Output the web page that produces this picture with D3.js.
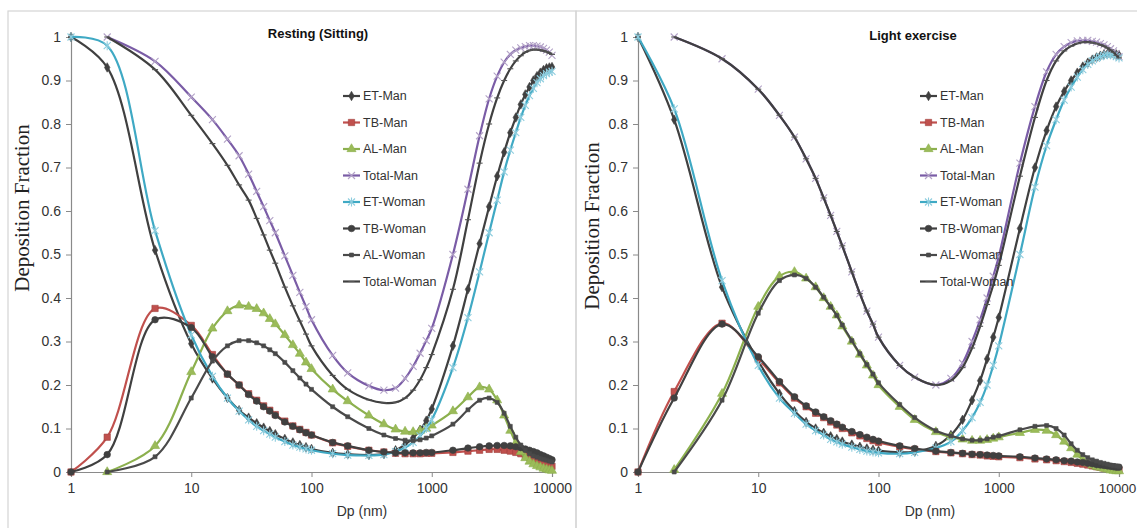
<!DOCTYPE html>
<html><head><meta charset="utf-8">
<script src="https://cdn.jsdelivr.net/npm/d3@7"></script>
<style>body{margin:0;background:#fff}svg{display:block}</style>
</head><body>
<svg id="chart" width="1137" height="528"></svg>
<script>
// particle diameter grid (nm)
const dp = [1,2,5,10,15,20,25,30,35,40,45,50,60,70,80,90,100,150,200,300,400,500,600,700,800,900,1000,1500,2000,2500,3000,3500,4000,4500,5000,5500,6000,6500,7000,7500,8000,8500,9000,9500,10000];
const seriesNames = ["ET-Man","TB-Man","AL-Man","Total-Man","ET-Woman","TB-Woman","AL-Woman","Total-Woman"];
const yTicks = [0,0.1,0.2,0.3,0.4,0.5,0.6,0.7,0.8,0.9,1];
const xTicks = [1,10,100,1000,10000];

// Resting (Sitting)
const restETMan = [1.0,0.93,0.51,0.295,0.215,0.17,0.142,0.125,0.112,0.102,0.094,0.087,0.076,0.068,0.062,0.057,0.053,0.044,0.041,0.039,0.041,0.05,0.063,0.078,0.097,0.118,0.145,0.29,0.42,0.525,0.61,0.68,0.735,0.78,0.815,0.845,0.868,0.885,0.9,0.91,0.918,0.924,0.928,0.93,0.931];
const restTBMan = [0,0.08,0.376,0.337,0.27,0.225,0.2,0.18,0.165,0.152,0.142,0.132,0.117,0.106,0.098,0.091,0.085,0.067,0.059,0.05,0.046,0.043,0.042,0.042,0.042,0.043,0.043,0.045,0.048,0.05,0.052,0.052,0.05,0.048,0.045,0.042,0.038,0.034,0.03,0.027,0.023,0.02,0.017,0.015,0.013];
const restALMan = [null,0,0.06,0.23,0.33,0.37,0.383,0.38,0.375,0.365,0.352,0.34,0.315,0.292,0.272,0.252,0.237,0.19,0.163,0.13,0.11,0.098,0.093,0.092,0.095,0.1,0.107,0.14,0.172,0.195,0.19,0.165,0.13,0.095,0.067,0.046,0.032,0.024,0.018,0.014,0.011,0.008,0.006,0.004,0.003];
const restTotalMan = [null,1.0,0.944,0.862,0.81,0.765,0.727,0.685,0.645,0.61,0.578,0.55,0.497,0.452,0.413,0.38,0.35,0.268,0.228,0.198,0.188,0.193,0.215,0.243,0.273,0.302,0.33,0.5,0.65,0.773,0.858,0.91,0.942,0.96,0.97,0.975,0.978,0.98,0.98,0.979,0.977,0.974,0.97,0.965,0.958];
const restETWoman = [1.0,0.98,0.555,0.315,0.22,0.17,0.14,0.12,0.105,0.095,0.087,0.08,0.07,0.062,0.057,0.053,0.05,0.042,0.039,0.038,0.04,0.047,0.056,0.068,0.083,0.1,0.12,0.24,0.355,0.46,0.55,0.625,0.69,0.74,0.78,0.815,0.843,0.865,0.882,0.895,0.904,0.911,0.916,0.919,0.921];
const restTBWoman = [0,0.04,0.35,0.332,0.265,0.225,0.2,0.178,0.163,0.15,0.14,0.13,0.115,0.105,0.097,0.09,0.085,0.068,0.06,0.05,0.046,0.044,0.044,0.044,0.044,0.045,0.045,0.05,0.055,0.058,0.06,0.061,0.061,0.06,0.058,0.056,0.053,0.05,0.047,0.044,0.04,0.037,0.034,0.031,0.028];
const restALWoman = [null,0,0.035,0.17,0.255,0.29,0.302,0.302,0.297,0.29,0.281,0.272,0.252,0.233,0.216,0.202,0.19,0.15,0.127,0.1,0.085,0.077,0.073,0.072,0.074,0.078,0.083,0.11,0.143,0.165,0.17,0.16,0.135,0.105,0.08,0.062,0.05,0.042,0.037,0.034,0.031,0.029,0.027,0.025,0.023];
const restTotalWoman = [null,1.0,0.925,0.82,0.755,0.705,0.66,0.625,0.583,0.545,0.51,0.48,0.425,0.382,0.347,0.317,0.29,0.222,0.19,0.166,0.159,0.16,0.17,0.188,0.212,0.24,0.27,0.42,0.58,0.71,0.8,0.86,0.9,0.927,0.945,0.957,0.965,0.969,0.971,0.971,0.97,0.968,0.966,0.963,0.96];

// Light exercise
const lightETMan = [1.0,0.81,0.425,0.255,0.18,0.14,0.115,0.1,0.09,0.082,0.076,0.07,0.063,0.058,0.054,0.051,0.049,0.045,0.047,0.06,0.085,0.12,0.165,0.21,0.26,0.31,0.355,0.56,0.7,0.785,0.84,0.875,0.9,0.918,0.932,0.941,0.948,0.953,0.957,0.96,0.961,0.962,0.961,0.96,0.958];
const lightTBMan = [0,0.185,0.342,0.26,0.205,0.17,0.15,0.135,0.125,0.115,0.108,0.1,0.09,0.083,0.077,0.072,0.068,0.058,0.052,0.047,0.044,0.042,0.04,0.039,0.037,0.036,0.035,0.033,0.03,0.028,0.026,0.024,0.022,0.02,0.018,0.016,0.014,0.012,0.011,0.009,0.008,0.007,0.006,0.005,0.005];
const lightALMan = [null,0.005,0.18,0.38,0.45,0.46,0.445,0.425,0.4,0.38,0.36,0.335,0.3,0.27,0.245,0.222,0.2,0.15,0.12,0.092,0.08,0.075,0.072,0.072,0.074,0.077,0.08,0.09,0.097,0.095,0.085,0.07,0.055,0.04,0.028,0.02,0.015,0.012,0.01,0.008,0.006,0.004,0.003,0.002,0.002];
const lightTotalMan = [null,1.0,0.95,0.88,0.82,0.77,0.72,0.675,0.63,0.59,0.553,0.52,0.46,0.41,0.37,0.34,0.31,0.245,0.218,0.2,0.215,0.25,0.3,0.35,0.4,0.45,0.495,0.71,0.84,0.92,0.96,0.978,0.987,0.991,0.992,0.992,0.99,0.988,0.985,0.982,0.978,0.973,0.968,0.962,0.955];
const lightETWoman = [1.0,0.835,0.44,0.245,0.17,0.135,0.11,0.095,0.085,0.075,0.069,0.064,0.057,0.052,0.048,0.046,0.044,0.042,0.045,0.055,0.07,0.095,0.125,0.16,0.2,0.245,0.29,0.5,0.655,0.75,0.81,0.855,0.885,0.908,0.925,0.937,0.945,0.951,0.955,0.958,0.959,0.959,0.958,0.955,0.952];
const lightTBWoman = [0,0.17,0.34,0.265,0.208,0.173,0.152,0.138,0.127,0.118,0.11,0.103,0.093,0.086,0.08,0.075,0.071,0.06,0.054,0.048,0.045,0.043,0.041,0.04,0.039,0.038,0.037,0.035,0.032,0.03,0.028,0.026,0.025,0.023,0.022,0.02,0.019,0.017,0.016,0.015,0.014,0.013,0.012,0.011,0.011];
const lightALWoman = [null,0,0.165,0.365,0.44,0.453,0.445,0.425,0.402,0.38,0.36,0.338,0.302,0.272,0.247,0.225,0.205,0.155,0.125,0.095,0.083,0.076,0.073,0.073,0.076,0.08,0.083,0.097,0.105,0.107,0.1,0.085,0.065,0.05,0.04,0.033,0.028,0.025,0.022,0.02,0.018,0.016,0.015,0.014,0.013];
const lightTotalWoman = [null,1.0,0.95,0.88,0.82,0.77,0.72,0.675,0.63,0.59,0.553,0.52,0.46,0.41,0.37,0.34,0.31,0.245,0.218,0.2,0.21,0.24,0.285,0.335,0.385,0.43,0.475,0.68,0.815,0.9,0.945,0.968,0.979,0.985,0.988,0.988,0.987,0.985,0.982,0.979,0.975,0.97,0.965,0.958,0.952];

const restSeries = [restETMan,restTBMan,restALMan,restTotalMan,restETWoman,restTBWoman,restALWoman,restTotalWoman];
const lightSeries = [lightETMan,lightTBMan,lightALMan,lightTotalMan,lightETWoman,lightTBWoman,lightALWoman,lightTotalWoman];

// styles per series
const styles = [
  {line:"#404040", kind:"diamond", fill:"#404040", stroke:"#404040"},
  {line:"#C0504D", kind:"square", fill:"#C0504D", stroke:"#A0403D"},
  {line:"#8CB04E", kind:"triangle", fill:"#9BBB59", stroke:"#8CB04E"},
  {line:"#7A5CA6", kind:"x", fill:"none", stroke:"#B3A2C7"},
  {line:"#3FA9C4", kind:"star", fill:"none", stroke:"#8ECDDE"},
  {line:"#404040", kind:"circle", fill:"#404040", stroke:"#404040"},
  {line:"#4a4a4a", kind:"smallsquare", fill:"#4a4a4a", stroke:"#4a4a4a"},
  {line:"#404040", kind:"dash", fill:"none", stroke:"#555"}
];

function markerPath(kind){
  switch(kind){
    case "diamond": return d3.symbol(d3.symbolDiamond, 26)();
    case "square": return d3.symbol(d3.symbolSquare, 40)();
    case "triangle": return d3.symbol(d3.symbolTriangle, 36)();
    case "circle": return d3.symbol(d3.symbolCircle, 34)();
    case "smallsquare": return d3.symbol(d3.symbolSquare, 16)();
    case "x": return "M-3.5,-3.5L3.5,3.5M-3.5,3.5L3.5,-3.5";
    case "star": return "M-3.5,-3.5L3.5,3.5M-3.5,3.5L3.5,-3.5M0,-4.5L0,4.5";
    case "dash": return "M-3,0L3,0";
  }
}

const svg = d3.select("#chart");
svg.append("rect").attr("width",1137).attr("height",528).attr("fill","#fff");

function drawPanel(cfg){
  const g = svg.append("g");
  g.append("rect").attr("x",cfg.box[0]).attr("y",cfg.box[1]).attr("width",cfg.box[2]).attr("height",cfg.box[3])
    .attr("fill","none").attr("stroke","#d4d4d4").attr("stroke-width",1.2);
  const x = d3.scaleLog().domain([1,10000]).range([cfg.x0, cfg.x1]);
  const y = d3.scaleLinear().domain([0,1]).range([472,37]);

  const ya = g.append("g").attr("transform",`translate(${cfg.x0},0)`)
    .call(d3.axisLeft(y).tickValues(yTicks).tickFormat(d3.format("~g")).tickSize(5).tickPadding(5));
  const xa = g.append("g").attr("transform",`translate(0,472)`)
    .call(d3.axisBottom(x).tickValues(xTicks).tickFormat(d3.format("d")).tickSize(5).tickPadding(6));
  [ya,xa].forEach(a=>{
    a.select(".domain").attr("stroke","#8a8a8a").attr("stroke-width",1.2);
    a.selectAll(".tick line").attr("stroke","#8a8a8a");
    a.selectAll(".tick text").attr("font-family","Liberation Sans, Arial, sans-serif").attr("font-size",14).attr("fill","#333");
  });
  if (cfg.shiftLast) xa.selectAll(".tick text").filter(d=>d===10000).attr("dx",-2).attr("font-size",13.5);
  const line = d3.line().defined(d=>d[1]!==null).x(d=>x(d[0])).y(d=>y(d[1])).curve(d3.curveCatmullRom.alpha(0.5));
  cfg.series.forEach((vals,i)=>{
    const st = styles[i];
    const pts = dp.map((v,j)=>[v,vals[j]]).filter(d=>d[1]!==null);
    g.append("path").datum(pts).attr("d",line).attr("fill","none").attr("stroke",st.line).attr("stroke-width",2.2);
    g.selectAll(null).data(pts).enter().append("path")
      .attr("d",markerPath(st.kind))
      .attr("transform",d=>`translate(${x(d[0])},${y(d[1])})`)
      .attr("fill",st.fill).attr("stroke",st.stroke).attr("stroke-width",st.fill==="none"?1.1:0.6);
  });
  // title
  g.append("text").attr("x",cfg.titleX).attr("y",cfg.titleY).attr("text-anchor","middle")
    .attr("font-family","Liberation Sans, Arial, sans-serif").attr("font-weight","bold").attr("font-size",13)
    .attr("fill","#111").text(cfg.title);
  // axis titles
  g.append("text").attr("transform",`translate(${cfg.ytX},${cfg.ytY}) rotate(-90)`).attr("text-anchor","middle")
    .attr("font-family","Liberation Serif, Times New Roman, serif").attr("font-size",21).attr("fill","#222")
    .attr("dy","0.35em").text("Deposition Fraction");
  g.append("text").attr("x",cfg.xtX).attr("y",516).attr("text-anchor","middle")
    .attr("font-family","Liberation Sans, Arial, sans-serif").attr("font-size",14).attr("fill","#333").text("Dp (nm)");
  // legend
  const lg = g.append("g");
  seriesNames.forEach((n,i)=>{
    const st = styles[i];
    const yy = 96 + i*26.5;
    lg.append("line").attr("x1",cfg.legX).attr("x2",cfg.legX+17).attr("y1",yy).attr("y2",yy).attr("stroke",st.line).attr("stroke-width",2.2);
    lg.append("path").attr("d",markerPath(st.kind)).attr("transform",`translate(${cfg.legX+8.5},${yy})`)
      .attr("fill",st.fill).attr("stroke",st.stroke).attr("stroke-width",st.fill==="none"?1.1:0.6);
    lg.append("text").attr("x",cfg.legX+20).attr("y",yy).attr("dy","0.35em")
      .attr("font-family","Liberation Sans, Arial, sans-serif").attr("font-size",12.5).attr("fill","#333").text(n);
  });
}

drawPanel({box:[8,11,568,560], x0:71, x1:552, series:restSeries, title:"Resting (Sitting)", titleX:318, titleY:38,
  ytX:22, ytY:208, xtX:362, legX:343, shiftLast:false});
drawPanel({box:[576,11,600,560], x0:638, x1:1119, series:lightSeries, title:"Light exercise", titleX:913, titleY:40,
  ytX:592, ytY:226, xtX:930, legX:920, shiftLast:true});
</script>
</body></html>
